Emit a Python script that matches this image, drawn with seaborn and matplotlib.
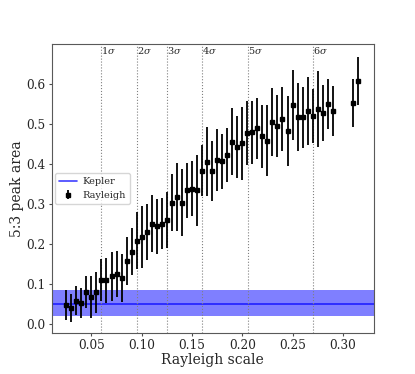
# 5:3 peak area vs Rayleigh scale
import numpy as np
import pandas as pd
import matplotlib
matplotlib.use("Agg")
import matplotlib.pyplot as plt
import seaborn as sns

# rayleigh points
scale = [0.025, 0.030, 0.035, 0.040, 0.045, 0.050, 0.055, 0.060, 0.065, 0.070,
         0.075, 0.080, 0.085, 0.090, 0.095, 0.100, 0.105, 0.110, 0.115, 0.120,
         0.125, 0.130, 0.135, 0.140, 0.145, 0.150, 0.155, 0.160, 0.165, 0.170,
         0.175, 0.180, 0.185, 0.190, 0.195, 0.200, 0.205, 0.210, 0.215, 0.220,
         0.225, 0.230, 0.235, 0.240, 0.245, 0.250, 0.255, 0.260, 0.265, 0.270,
         0.275, 0.280, 0.285, 0.290, 0.310, 0.315]
area = [0.048, 0.040, 0.058, 0.053, 0.079, 0.068, 0.079, 0.110, 0.109, 0.119,
        0.125, 0.116, 0.158, 0.181, 0.208, 0.218, 0.231, 0.251, 0.244, 0.251,
        0.261, 0.303, 0.318, 0.303, 0.334, 0.338, 0.334, 0.384, 0.406, 0.383,
        0.410, 0.407, 0.423, 0.456, 0.443, 0.452, 0.478, 0.480, 0.490, 0.470,
        0.458, 0.506, 0.496, 0.514, 0.483, 0.548, 0.518, 0.517, 0.533, 0.521,
        0.538, 0.528, 0.550, 0.533, 0.552, 0.608]
err = [0.037, 0.035, 0.036, 0.038, 0.040, 0.052, 0.051, 0.052, 0.056, 0.062,
       0.057, 0.060, 0.060, 0.059, 0.071, 0.078, 0.070, 0.072, 0.068, 0.064,
       0.070, 0.071, 0.086, 0.084, 0.069, 0.069, 0.088, 0.064, 0.087, 0.075,
       0.077, 0.069, 0.068, 0.084, 0.078, 0.091, 0.079, 0.079, 0.076, 0.079,
       0.089, 0.085, 0.078, 0.080, 0.087, 0.088, 0.085, 0.077, 0.085, 0.068,
       0.095, 0.069, 0.063, 0.063, 0.060, 0.060]

# kepler value and band
kepler = 0.049
kepler_lo = 0.020
kepler_hi = 0.085

# sigma levels
sigma_x = [0.0597, 0.0955, 0.125, 0.160, 0.2053, 0.2705]
sigma_lab = [r"1$\sigma$", r"2$\sigma$", r"3$\sigma$", r"4$\sigma$", r"5$\sigma$", r"6$\sigma$"]

df = pd.DataFrame({"scale": scale, "area": area, "err": err})

sns.set_style("ticks")
plt.rcParams["font.family"] = ["DejaVu Serif"]
plt.rcParams["mathtext.fontset"] = "dejavuserif"

fig, ax = plt.subplots(figsize=(4.15, 3.74), dpi=100)
fig.subplots_adjust(left=0.125, right=0.9, bottom=0.11, top=0.882)

# kepler band
ax.axhspan(kepler_lo, kepler_hi, color="b", alpha=0.5, lw=0)
ax.axhline(kepler, color="b", lw=1.2, alpha=0.75, label="Kepler")

# sigma lines
for sx, sl in zip(sigma_x, sigma_lab):
    ax.axvline(sx, color="gray", ls=":", lw=0.8)
    ax.text(sx, 0.697, sl, fontsize=7, va="top", ha="left")

ax.errorbar(df["scale"], df["area"], yerr=df["err"], fmt="s", color="k",
            ms=3.5, elinewidth=1.3, capsize=0, label="Rayleigh")

ax.set_xlim(0.0107, 0.3305)
ax.set_ylim(-0.022, 0.70)
ax.set_xticks([0.05, 0.10, 0.15, 0.20, 0.25, 0.30])
ax.set_yticks([0.0, 0.1, 0.2, 0.3, 0.4, 0.5, 0.6])
ax.tick_params(labelsize=8.7, length=2.5, pad=2, color="0.3")
for s in ax.spines.values():
    s.set_color("0.35")
ax.set_xlabel("Rayleigh scale", fontsize=10, labelpad=0.5)
ax.set_ylabel("5:3 peak area", fontsize=10, labelpad=2)

ax.legend(loc="center left", fontsize=7, frameon=True, handlelength=1.8,
          handletextpad=0.6, borderaxespad=0.35)

fig.savefig("out.png", dpi=100)
